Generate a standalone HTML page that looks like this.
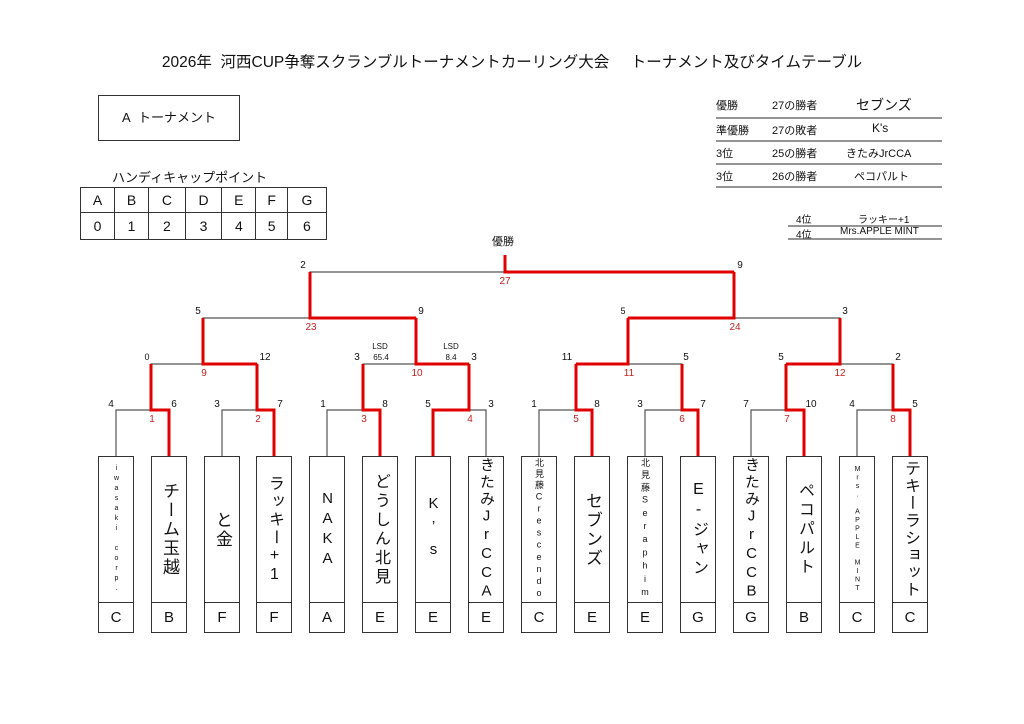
<!DOCTYPE html>
<html><head><meta charset="utf-8">
<style>
*{margin:0;padding:0;box-sizing:border-box}
body{width:1024px;height:724px;background:#fff;position:relative;overflow:hidden;font-family:"Liberation Sans","Noto Sans CJK JP",sans-serif;color:#111}
.a{position:absolute;white-space:nowrap}
.box{position:absolute;top:456px;width:36px;height:177px;border:1px solid #333;background:#fff}
.n{writing-mode:vertical-rl;text-orientation:upright;height:145px;width:34px;line-height:34px;text-align:center;overflow:hidden;white-space:pre}
.l{position:absolute;left:0;top:145px;width:34px;height:30px;border-top:1px solid #333;text-align:center;line-height:30px;font-size:15px}
table{border-collapse:collapse;position:absolute}
td{border:1px solid #333;text-align:center;font-size:14px}
</style></head><body>
<div class="a" style="left:0;width:1024px;text-align:center;top:50px;font-size:15.5px">2026年&nbsp;&nbsp;河西CUP争奪スクランブルトーナメントカーリング大会&nbsp;&nbsp;&nbsp;&nbsp;&nbsp;トーナメント及びタイムテーブル</div>
<div class="a" style="left:98px;top:95px;width:142px;height:46px;border:1px solid #333;text-align:center;line-height:44px;font-size:13px">A&nbsp;&nbsp;トーナメント</div>
<div class="a" style="left:112px;top:167px;font-size:13px">ハンディキャップポイント</div>
<table style="left:80px;top:187px;width:247px">
<tr style="height:25px"><td>A</td><td>B</td><td>C</td><td>D</td><td>E</td><td>F</td><td>G</td></tr>
<tr style="height:27px"><td>0</td><td>1</td><td>2</td><td>3</td><td>4</td><td>5</td><td>6</td></tr>
</table>
<div class="a" style="left:716px;top:97px;font-size:11px">優勝</div><div class="a" style="left:772px;top:97px;font-size:11px">27の勝者</div><div class="a" style="left:856px;top:95px;font-size:14px">セブンズ</div>
<div class="a" style="left:716px;top:122px;font-size:11px">準優勝</div><div class="a" style="left:772px;top:122px;font-size:11px">27の敗者</div><div class="a" style="left:872px;top:121px;font-size:12px">K's</div>
<div class="a" style="left:716px;top:145px;font-size:11px">3位</div><div class="a" style="left:772px;top:145px;font-size:11px">25の勝者</div><div class="a" style="left:846px;top:145px;font-size:11px">きたみJrCCA</div>
<div class="a" style="left:716px;top:168px;font-size:11px">3位</div><div class="a" style="left:772px;top:168px;font-size:11px">26の勝者</div><div class="a" style="left:854px;top:168px;font-size:11px">ペコパルト</div>
<div class="a" style="left:796px;top:211px;font-size:10px">4位</div><div class="a" style="left:858px;top:211px;font-size:10px">ラッキー+1</div>
<div class="a" style="left:796px;top:226px;font-size:10px">4位</div><div class="a" style="left:840px;top:226px;font-size:10px">Mrs.APPLE MINT</div>
<div class="a" style="left:492px;top:233px;font-size:11px">優勝</div>
<svg class="a" style="left:0;top:0" width="1024" height="724">
<g stroke="#555" stroke-width="1.2" fill="none">
<line x1="716" y1="118" x2="942" y2="118"/><line x1="716" y1="141" x2="942" y2="141"/><line x1="716" y1="164" x2="942" y2="164"/><line x1="716" y1="187" x2="942" y2="187"/>
<line x1="788" y1="226" x2="942" y2="226"/><line x1="788" y1="239" x2="942" y2="239"/>
<path d="M116 456V410H169V456M222 456V410H274V456M327 456V410H380V456M433 456V410H486V456M539 456V410H592V456M645 456V410H698V456M751 456V410H804V456M857 456V410H910V456"/>
<path d="M151 410V364H257V410M363 410V364H469V410M576 410V364H682V410M786 410V364H893V410"/>
<path d="M203 364V318H416V364M628 364V318H840V364M310 318V272H734V318M505 272V255"/>
</g>
<g stroke="#e00000" stroke-width="3" fill="none">
<polyline points="169,456 169,410 151,410 151,364"/>
<polyline points="274,456 274,410 257,410 257,364"/>
<polyline points="380,456 380,410 363,410 363,364"/>
<polyline points="433,456 433,410 469,410 469,364"/>
<polyline points="592,456 592,410 576,410 576,364"/>
<polyline points="698,456 698,410 682,410 682,364"/>
<polyline points="804,456 804,410 786,410 786,364"/>
<polyline points="910,456 910,410 893,410 893,364"/>
<polyline points="257,364 203,364 203,318"/>
<polyline points="469,364 416,364 416,318"/>
<polyline points="576,364 628,364 628,318"/>
<polyline points="786,364 840,364 840,318"/>
<polyline points="416,318 310,318 310,272"/>
<polyline points="628,318 734,318 734,272"/>
<polyline points="734,272 505,272 505,255"/>
</g>
<g font-size="10" fill="#111" text-anchor="middle" font-family="Liberation Sans, sans-serif">
<text x="111" y="407">4</text><text x="174" y="407">6</text>
<text x="217" y="407">3</text><text x="280" y="407">7</text>
<text x="323" y="407">1</text><text x="385" y="407">8</text>
<text x="428" y="407">5</text><text x="491" y="407">3</text>
<text x="534" y="407">1</text><text x="597" y="407">8</text>
<text x="640" y="407">3</text><text x="703" y="407">7</text>
<text x="746" y="407">7</text><text x="811" y="407">10</text>
<text x="852" y="407">4</text><text x="915" y="407">5</text>
<text x="147" y="360" font-size="9">0</text><text x="265" y="360">12</text>
<text x="357" y="360">3</text><text x="474" y="360">3</text>
<text x="567" y="360">11</text><text x="686" y="360">5</text>
<text x="781" y="360">5</text><text x="898" y="360">2</text>
<text x="198" y="314">5</text><text x="421" y="314">9</text>
<text x="623" y="314" font-size="9">5</text><text x="845" y="314">3</text>
<text x="303" y="268">2</text><text x="740" y="268">9</text>
<text x="380" y="349" font-size="8">LSD</text><text x="381" y="360" font-size="8">65.4</text>
<text x="451" y="349" font-size="8">LSD</text><text x="451" y="360" font-size="8">8.4</text>
</g>
<g font-size="10" fill="#c82020" text-anchor="middle" font-family="Liberation Sans, sans-serif">
<text x="152" y="422">1</text><text x="258" y="422">2</text><text x="364" y="422">3</text><text x="470" y="422">4</text>
<text x="576" y="422">5</text><text x="682" y="422">6</text><text x="787" y="422">7</text><text x="893" y="422">8</text>
<text x="204" y="376">9</text><text x="417" y="376">10</text><text x="629" y="376">11</text><text x="840" y="376">12</text>
<text x="311" y="330">23</text><text x="735" y="330">24</text><text x="505" y="284">27</text>
</g>
</svg>
<div class="box" style="left:98px"><div class="n" style="font-size:7px;letter-spacing:3px">iwasaki　corp.</div><div class="l">C</div></div>
<div class="box" style="left:151px"><div class="n" style="font-size:17px;letter-spacing:2px">チーム玉越</div><div class="l">B</div></div>
<div class="box" style="left:204px"><div class="n" style="font-size:17px;letter-spacing:2px">と金</div><div class="l">F</div></div>
<div class="box" style="left:256px"><div class="n" style="font-size:16px;letter-spacing:2px">ラッキー+1</div><div class="l">F</div></div>
<div class="box" style="left:309px"><div class="n" style="font-size:15px;letter-spacing:3px">NAKA</div><div class="l">A</div></div>
<div class="box" style="left:362px"><div class="n" style="font-size:16px;letter-spacing:3px">どうしん北見</div><div class="l">E</div></div>
<div class="box" style="left:415px"><div class="n" style="font-size:15px;letter-spacing:6px">K’s</div><div class="l">E</div></div>
<div class="box" style="left:468px"><div class="n" style="font-size:15px;letter-spacing:1.8px">きたみJrCCA</div><div class="l">E</div></div>
<div class="box" style="left:521px"><div class="n" style="font-size:9px;letter-spacing:2.1px">北見藤Crescendo</div><div class="l">C</div></div>
<div class="box" style="left:574px"><div class="n" style="font-size:17px;letter-spacing:2px">セブンズ</div><div class="l">E</div></div>
<div class="box" style="left:627px"><div class="n" style="font-size:9px;letter-spacing:3.2px">北見藤Seraphim</div><div class="l">E</div></div>
<div class="box" style="left:680px"><div class="n" style="font-size:16px;letter-spacing:3px">E-ジャン</div><div class="l">G</div></div>
<div class="box" style="left:733px"><div class="n" style="font-size:15px;letter-spacing:1.8px">きたみJrCCB</div><div class="l">G</div></div>
<div class="box" style="left:786px"><div class="n" style="font-size:16px;letter-spacing:3px">ペコパルト</div><div class="l">B</div></div>
<div class="box" style="left:839px"><div class="n" style="font-size:7px;letter-spacing:1.5px">Mrs.　APPLE　MINT</div><div class="l">C</div></div>
<div class="box" style="left:892px"><div class="n" style="font-size:16px;letter-spacing:1.3px">テキーラショット</div><div class="l">C</div></div>
</body></html>
